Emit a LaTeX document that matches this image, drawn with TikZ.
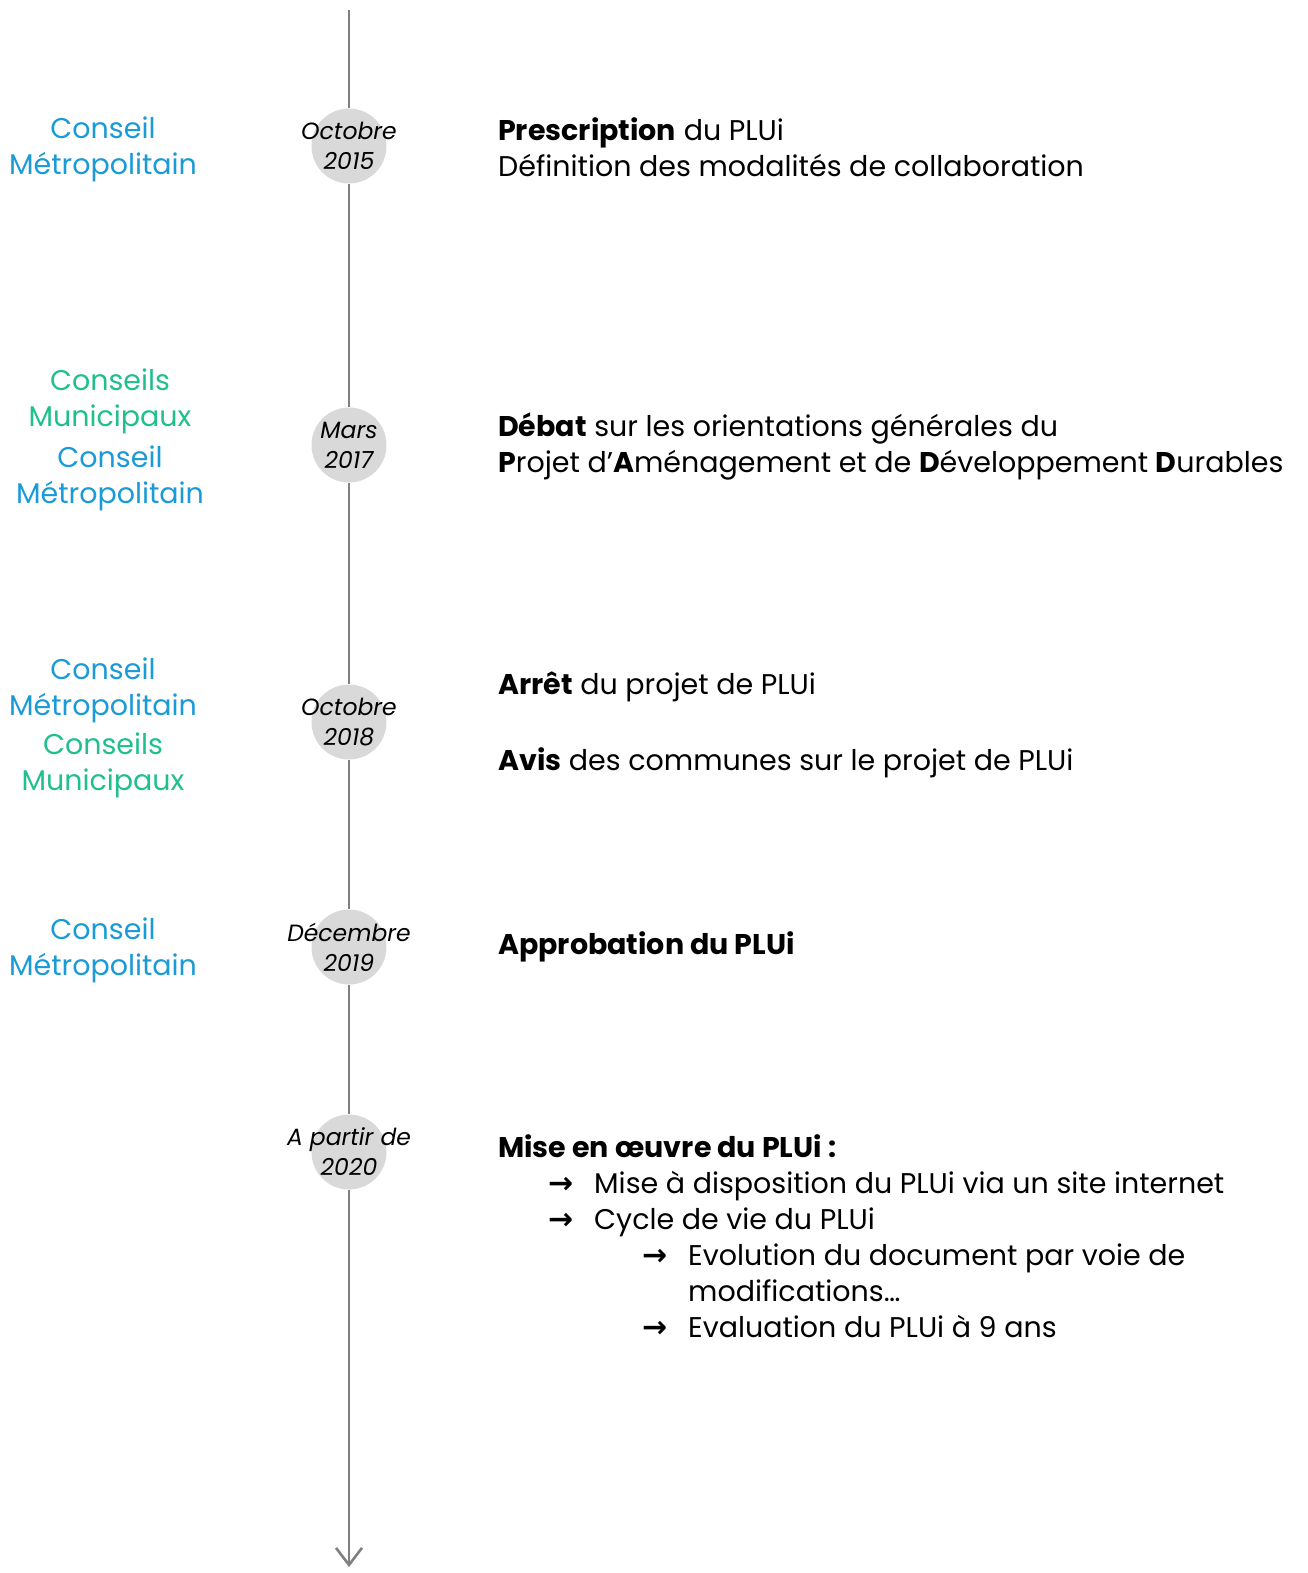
\documentclass[tikz,border=0pt]{standalone}
\usepackage{fontspec}
\setmainfont{Poppins}
\newfontfamily\arrowfont{DejaVu Sans}
\usetikzlibrary{arrows.meta}

\definecolor{metroblue}{HTML}{1A9AD6}
\definecolor{munigreen}{HTML}{20BF8E}
\definecolor{linegray}{HTML}{808080}
\definecolor{dategray}{HTML}{D9D9D9}

\newcommand{\itemarrow}{\makebox[46pt][l]{\arrowfont\bfseries\fontsize{30}{36}\selectfont →}}

\begin{document}
\begin{tikzpicture}[
            x = 1pt, y = -1pt, % pixel units, y downwards
            timeline/.style = {draw=linegray, line width=2.6pt}, % the time axis
            datecircle/.style = {shape=circle, fill=dategray, minimum size=75pt, inner sep=0pt},
            datetext/.style = {align=center, font=\fontsize{23.5}{30}\selectfont\itshape},
            metro/.style = {align=center, text=metroblue, inner sep=0pt, font=\fontsize{28.5}{36}\selectfont},
            muni/.style = {align=center, text=munigreen, inner sep=0pt, font=\fontsize{28.5}{36}\selectfont},
            event/.style = {anchor=west, align=left, inner sep=0pt, font=\fontsize{28.5}{36}\selectfont}
        ]
\useasboundingbox (0,0) rectangle (1307,1573);

\coordinate (top) at (349,10);
\coordinate (bottom) at (349,1567);

% dates on the axis
\node[datecircle] (d1) at (349,146) {};
\node[datecircle] (d2) at (349,445) {};
\node[datecircle] (d3) at (349,722) {};
\node[datecircle] (d4) at (349,947) {};
\node[datecircle] (d5) at (349,1152) {};

\path[timeline] (top) -- (d1) -- (d2) -- (d3) -- (d4) -- (d5);
\draw[timeline, -{Straight Barb[length=17pt, width=26pt, line width=2.6pt]}] (d5) -- (bottom);

\node[datetext] (t1) at (d1) {Octobre\\2015};
\node[datetext] (t2) at (d2) {Mars\\2017};
\node[datetext] (t3) at (d3) {Octobre\\2018};
\node[datetext] (t4) at (d4) {Décembre\\2019};
\node[datetext] (t5) at (d5) {A partir de\\2020};

% who decides
\node[metro] (w1) at (103,149) {Conseil\\Métropolitain};
\node[muni] (w2a) at (110,401) {Conseils\\Municipaux};
\node[metro] (w2b) at (110,478) {Conseil\\Métropolitain};
\node[metro] (w3a) at (103,690) {Conseil\\Métropolitain};
\node[muni] (w3b) at (103,765) {Conseils\\Municipaux};
\node[metro] (w4) at (103,950) {Conseil\\Métropolitain};

% what happens
\node[event] (e1) at (498,147) {\textbf{Prescription} du PLUi\\Définition des modalités de collaboration};
\node[event] (e2) at (498,446) {\textbf{Débat} sur les orientations générales du\\\textbf{P}rojet d’\textbf{A}ménagement et de \textbf{D}éveloppement \textbf{D}urables};
\node[event] (e3) at (498,687) {\textbf{Arrêt} du projet de PLUi};
\node[event] (e4) at (498,763) {\textbf{Avis} des communes sur le projet de PLUi};
\node[event] (e5) at (498,947) {\textbf{Approbation du PLUi}};
\node[event] (e6) at (498,1236) {\textbf{Mise en œuvre du PLUi :}\\
    \hspace*{50pt}\itemarrow Mise à disposition du PLUi via un site internet\\
    \hspace*{50pt}\itemarrow Cycle de vie du PLUi\\
    \hspace*{144pt}\itemarrow Evolution du document par voie de\\
    \hspace*{190pt}modifications…\\
    \hspace*{144pt}\itemarrow Evaluation du PLUi à 9 ans};

\end{tikzpicture}
\end{document}
